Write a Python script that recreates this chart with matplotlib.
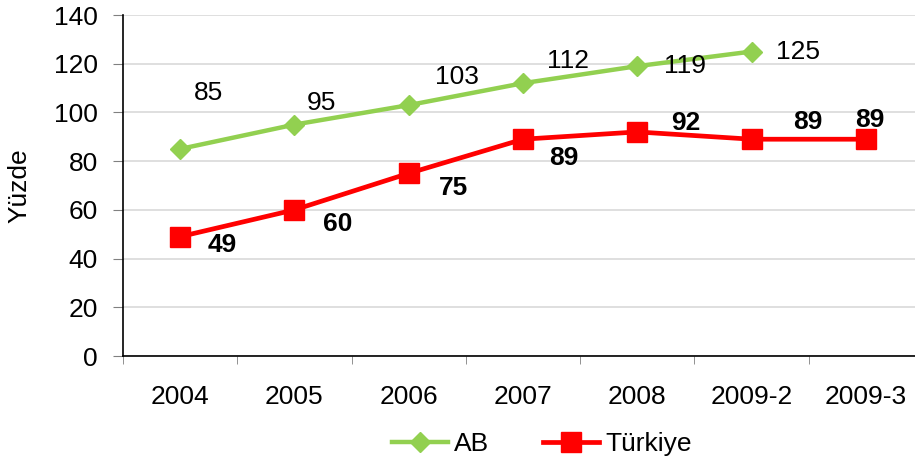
import numpy as np
import matplotlib.pyplot as plt
from matplotlib.ticker import FixedLocator, NullFormatter

plt.rcParams['font.family'] = ['Liberation Sans', 'DejaVu Sans']

# data
categories = ['2004', '2005', '2006', '2007', '2008', '2009-2', '2009-3']
ab_values = [85, 95, 103, 112, 119, 125]
tr_values = [49, 60, 75, 89, 92, 89, 89]

# label offsets in pixels (dx, dy)
ab_offsets = [(28, 56), (27, 22), (48, 28), (45, 22), (48, 0), (46, 0)]
tr_offsets = [(42, -8), (43, -14), (45, -15), (41, -19), (48, 9), (56, 17), (4, 19)]

green = '#92D050'
red = '#FF0000'

fig = plt.figure(figsize=(9.15, 4.67), dpi=100)
ax = fig.add_axes([123 / 915, 1 - 356 / 467, 800 / 915, (356 - 15) / 467])

x_ab = np.arange(len(ab_values))
x_tr = np.arange(len(tr_values))

ax.plot(x_ab, ab_values, color=green, lw=3.2, marker='D', ms=10, label='AB', zorder=3)
ax.plot(x_tr, tr_values, color=red, lw=3.4, marker='s', ms=14, label='Türkiye', zorder=3)

px = 72 / 100  # pixels -> points
for xi, v, (dx, dy) in zip(x_ab, ab_values, ab_offsets):
    ax.annotate(str(v), (xi, v), xytext=(dx * px, dy * px), textcoords='offset points',
                ha='center', va='center', fontsize=19, zorder=4)
for xi, v, (dx, dy) in zip(x_tr, tr_values, tr_offsets):
    ax.annotate(str(v), (xi, v), xytext=(dx * px, dy * px), textcoords='offset points',
                ha='center', va='center', fontsize=19, fontweight='bold', zorder=4)

ax.set_xlim(-0.5, len(categories) - 0.5)
ax.set_ylim(0, 140)
ax.set_yticks(range(0, 141, 20))
ax.set_xticks(np.arange(len(categories)))
ax.set_xticklabels(categories)
ax.xaxis.set_minor_locator(FixedLocator(np.arange(-0.5, len(categories), 1)))
ax.xaxis.set_minor_formatter(NullFormatter())
ax.tick_params(axis='x', which='major', length=0, pad=21, labelsize=19)
ax.tick_params(axis='x', which='minor', length=6, color='#808080')
ax.tick_params(axis='y', length=7, color='#808080', labelsize=19, pad=11)

ax.grid(axis='y', color='#D9D9D9', lw=1.2)
ax.set_axisbelow(True)
for s in ['top', 'right']:
    ax.spines[s].set_visible(False)
ax.spines['left'].set_linewidth(1.2)
ax.spines['bottom'].set_linewidth(1.2)

ax.set_ylabel('Yüzde', fontsize=19, labelpad=16)

fig.legend(loc='center', bbox_to_anchor=(542 / 915, 1 - 444 / 467), ncol=2, frameon=False,
           fontsize=19, handlelength=2.1, columnspacing=2.05, handletextpad=0.25)

fig.savefig('out.png', dpi=100)
